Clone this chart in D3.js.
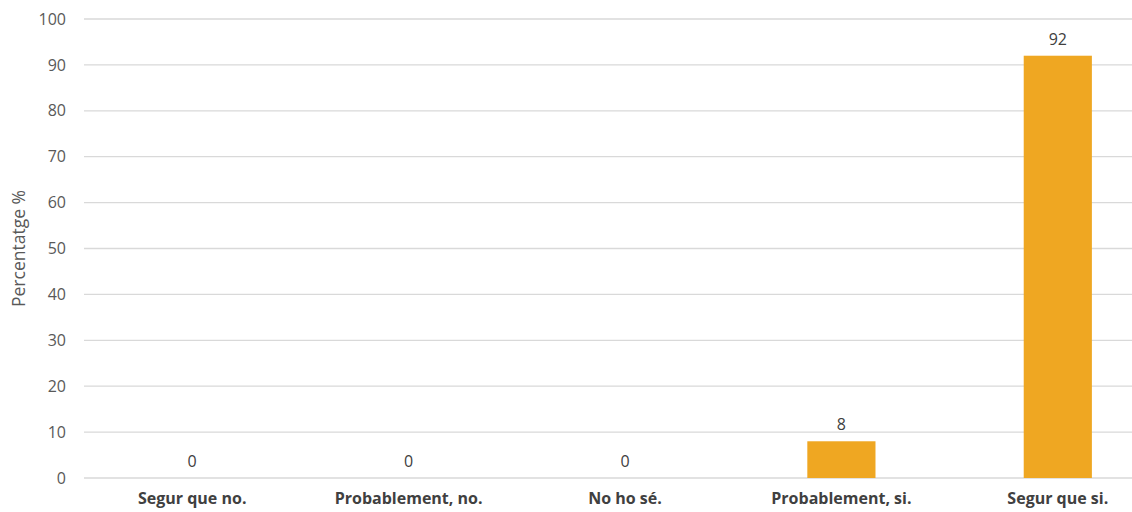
<!DOCTYPE html>
<html>
<head>
<meta charset="utf-8">
<script src="https://cdn.jsdelivr.net/npm/d3@7"></script>
<style>
  html, body { margin: 0; padding: 0; background: #fff; }
  svg { display: block; font-family: "Open Sans", sans-serif; }
</style>
</head>
<body>
<svg id="chart" width="1132" height="512"></svg>
<script>
const categories = ["Segur que no.", "Probablement, no.", "No ho sé.", "Probablement, si.", "Segur que si."];
const values = [0, 0, 0, 8, 92];
const yTicks = [0, 10, 20, 30, 40, 50, 60, 70, 80, 90, 100];
const yLabel = "Percentatge %";

(function () {
const svg = d3.select("#chart");
const W = 1132;
const mLeft = 84, mRight = 1166, mTop = 19, mBottom = 478;
const FONT = "'Open Sans', sans-serif";

const x = d3.scaleBand().domain(categories).range([mLeft, mRight]).paddingInner(0.685).paddingOuter(0.3425);
const y = d3.scaleLinear().domain([0, 100]).range([mBottom, mTop]);

// gridlines
svg.append("g").selectAll("line").data(yTicks).join("line")
  .attr("x1", mLeft).attr("x2", W)
  .attr("y1", d => y(d)).attr("y2", d => y(d))
  .attr("stroke", "#d9d9d9").attr("stroke-width", 1.3);

// y axis labels
const yAxis = d3.axisLeft(y).tickValues(yTicks).tickSize(0).tickPadding(18);
const gy = svg.append("g").attr("transform", `translate(${mLeft},0)`).call(yAxis);
gy.select(".domain").remove();
gy.selectAll("text").attr("font-size", 16).attr("fill", "#595959").attr("font-family", FONT);

// x axis labels
const xAxis = d3.axisBottom(x).tickSize(0).tickPadding(15);
const gx = svg.append("g").attr("transform", `translate(0,${mBottom})`).call(xAxis);
gx.select(".domain").remove();
gx.selectAll("text").attr("font-size", 16).attr("font-weight", "bold").attr("fill", "#404040").attr("font-family", FONT);

// bars
svg.append("g").selectAll("rect").data(values).join("rect")
  .attr("x", (d, i) => x(categories[i]))
  .attr("width", x.bandwidth())
  .attr("y", d => y(d))
  .attr("height", d => y(0) - y(d))
  .attr("fill", "#EFA722");

// value labels
svg.append("g").selectAll("text").data(values).join("text")
  .attr("x", (d, i) => x(categories[i]) + x.bandwidth() / 2)
  .attr("y", d => y(d) - 11)
  .attr("text-anchor", "middle")
  .attr("font-size", 16)
  .attr("font-family", FONT)
  .attr("fill", "#404040")
  .text(d => d);

// y label
svg.append("text")
  .attr("transform", `translate(25,${(mTop + mBottom) / 2}) rotate(-90)`)
  .attr("text-anchor", "middle")
  .attr("font-size", 17.5)
  .attr("font-family", FONT)
  .attr("fill", "#595959")
  .text(yLabel);
})();
</script>
</body>
</html>
